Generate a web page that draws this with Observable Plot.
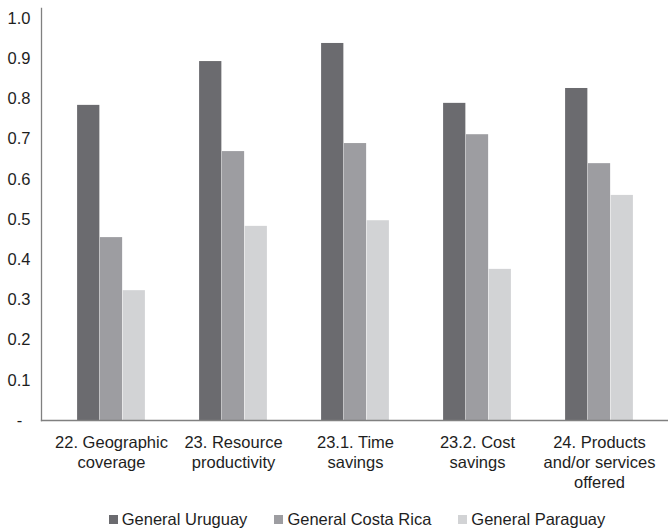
<!DOCTYPE html>
<html>
<head>
<meta charset="utf-8">
<script src="https://cdn.jsdelivr.net/npm/d3@7"></script>
<script src="https://cdn.jsdelivr.net/npm/@observablehq/plot@0.6"></script>
<style>
  body { margin: 0; background: #fff; font-family: "Liberation Sans", Arial, sans-serif; }
  #legend { display: flex; justify-content: center; padding-left: 46px; margin-top: 9px; font-size: 16.5px; line-height: 20px; color: #1e1e1e; }
  .item { display: flex; align-items: center; margin: 0 13.5px; }
  .sw { width: 9px; height: 9px; margin-right: 4px; }
</style>
</head>
<body>
<div id="chart"></div>
<div id="legend"></div>
<script>
const categories = ["22. Geographic coverage", "23. Resource productivity", "23.1. Time savings", "23.2. Cost savings", "24. Products and/or services offered"];
const categoryLabels = ["22. Geographic\ncoverage", "23. Resource\nproductivity", "23.1. Time\nsavings", "23.2. Cost\nsavings", "24. Products\nand/or services\noffered"];
const series = ["General Uruguay", "General Costa Rica", "General Paraguay"];
const uruguay = [0.784, 0.893, 0.938, 0.789, 0.826];
const costaRica = [0.455, 0.669, 0.689, 0.711, 0.639];
const paraguay = [0.323, 0.483, 0.497, 0.376, 0.560];
const yTicks = [0, 0.1, 0.2, 0.3, 0.4, 0.5, 0.6, 0.7, 0.8, 0.9, 1.0];
const colors = ["#6b6b6f", "#9d9da1", "#d2d3d5"];

const valuesBySeries = [uruguay, costaRica, paraguay];
const labelOf = new Map(categories.map((c, i) => [c, categoryLabels[i]]));

const width = 668, marginLeft = 41, marginRight = 1;
const paddingOuter = 0.055;
const band = (width - marginLeft - marginRight) / (categories.length + 2 * paddingOuter);
const barW = band / 5.38;

const barMarks = series.map((s, j) => {
  const left = band / 2 - 1.5 * barW + j * barW;
  const rows = categories.map((c, i) => ({category: c, series: s, value: valuesBySeries[j][i]}));
  return Plot.barY(rows, {x: "category", y: "value", fill: "series", insetLeft: left, insetRight: band - left - barW});
});

const chart = Plot.plot({
  width,
  height: 500,
  marginLeft,
  marginRight,
  marginTop: 8,
  marginBottom: 80,
  style: {fontSize: "16.5px", fontFamily: "'Liberation Sans', Arial, sans-serif", color: "#1e1e1e", background: "#fff"},
  x: {domain: categories, paddingInner: 0, paddingOuter, align: 0.57, axis: null},
  y: {domain: [0, 1.025], axis: null},
  color: {domain: series, range: colors},
  marks: [
    ...barMarks,
    Plot.frame({anchor: "left", stroke: "#808080", strokeWidth: 1.3}),
    Plot.frame({anchor: "bottom", stroke: "#808080", strokeWidth: 1.3}),
    Plot.axisY({ticks: yTicks, tickFormat: d => d === 0 ? "-\u2002" : d.toFixed(1), tickSize: 0, tickPadding: 11, label: null, fill: "#1e1e1e"}),
    Plot.axisX({anchor: "bottom", tickFormat: d => labelOf.get(d), tickSize: 0, tickPadding: 13, label: null, lineHeight: 1.22, fill: "#1e1e1e"})
  ]
});
document.getElementById("chart").appendChild(chart);

const legend = document.getElementById("legend");
series.forEach((s, i) => {
  const item = document.createElement("div");
  item.className = "item";
  const sw = document.createElement("span");
  sw.className = "sw";
  sw.style.background = colors[i];
  const t = document.createElement("span");
  t.textContent = s;
  item.appendChild(sw);
  item.appendChild(t);
  legend.appendChild(item);
});
</script>
</body>
</html>
